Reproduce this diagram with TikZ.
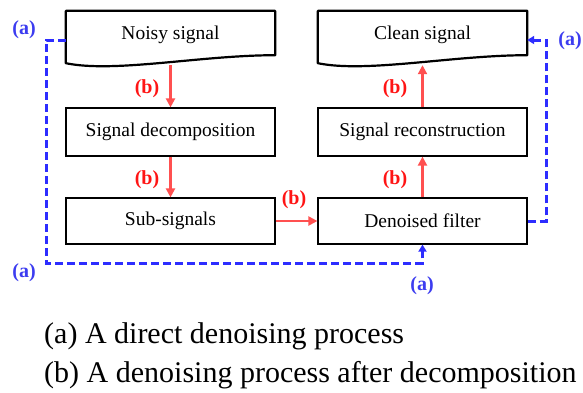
\documentclass[tikz,border=0pt]{standalone}
\usepackage{fontspec}
\setmainfont{Liberation Serif}
\usetikzlibrary{arrows.meta,calc}
\definecolor{arrred}{RGB}{255,80,80}
\definecolor{labred}{RGB}{255,20,20}
\definecolor{arrblue}{RGB}{45,45,255}
\definecolor{labblue}{RGB}{60,60,240}
\newcommand\docshape[1]{%
  \draw[line width=2.2pt,line join=round] (#1.north west) -- (#1.north east) -- ($(#1.south east)+(0,-4)$)
    .. controls ($(#1.south)+(30,-4)$) and ($(#1.south west)+(49,14)$) .. ($(#1.south west)+(0,4)$) -- cycle;}
\begin{document}
\begin{tikzpicture}[x=1pt,y=-1pt,
  box/.style={draw=black,line width=1.2pt,minimum width=209pt,minimum height=48pt,inner sep=0pt,font=\fontsize{19.5}{22}\selectfont},
  doc/.style={minimum width=209pt,minimum height=48pt,inner sep=0pt,font=\fontsize{19.5}{22}\selectfont},
  redarr/.style={draw=arrred,line width=2.1pt,-{Triangle[length=9pt,width=9pt]}},
  bluearr/.style={draw=arrblue,line width=3pt,dash pattern=on 8pt off 4pt,-{Triangle[length=7pt,width=8pt]}},
  lb/.style={text=labred,inner sep=0pt,font=\bfseries\fontsize{20}{22}\selectfont},
  la/.style={text=labblue,inner sep=0pt,font=\bfseries\fontsize{20}{22}\selectfont},
  legend/.style={anchor=west,inner sep=0pt,font=\fontsize{30}{34}\selectfont}
]
\clip (0,0) rectangle (583,392);
\fill[white] (0,0) rectangle (583,392);
% nodes
\node[doc] (noisy) at (170.5,35) {Noisy signal};
\node[doc] (clean) at (422.5,35) {Clean signal};
\docshape{noisy}
\docshape{clean}
\node[box] (decomp) at (170.5,132) {Signal decomposition};
\node[box] (recon) at (422.5,132) {Signal reconstruction};
\node[box,minimum height=46pt] (sub) at (170.5,221) {Sub-signals};
\node[box,minimum height=46pt] (denoise) at (422.5,221) {Denoised filter};
% red arrows
\draw[redarr] ($(noisy.south)+(0,6)$) -- (decomp.north);
\draw[redarr] (decomp.south) -- (sub.north);
\draw[redarr] (sub.east) -- (denoise.west);
\draw[redarr] (denoise.north) -- (recon.south);
\draw[redarr] (recon.north) -- ($(clean.south)+(0,6)$);
% blue dashed
\coordinate (bl) at (46,263);
\coordinate (tr) at (546,40);
\draw[bluearr] ($(noisy.west)+(0,5)$) -| (bl) -| (denoise.south);
\draw[bluearr] (denoise.east) -| (tr) -- ($(clean.east)+(0,5)$);
% labels
\node[la] (a1) at (24,30) {(a)};
\node[la] (a2) at (24,273) {(a)};
\node[la] (a3) at (422,286) {(a)};
\node[la] (a4) at (570,41) {(a)};
\node[lb] (b1) at (147,89) {(b)};
\node[lb] (b2) at (147,180) {(b)};
\node[lb] (b3) at (294,200) {(b)};
\node[lb] (b4) at (395,89) {(b)};
\node[lb] (b5) at (395,180) {(b)};
% legend
\node[legend] (leg1) at (44,336) {(a) A direct denoising process};
\node[legend] (leg2) at (44,375) {(b) A denoising process after decomposition};
\end{tikzpicture}
\end{document}
